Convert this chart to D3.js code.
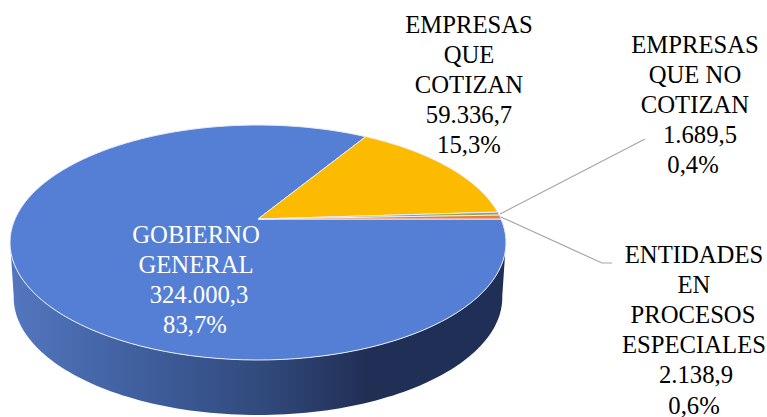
<!DOCTYPE html>
<html><head><meta charset="utf-8">
<script src="https://cdn.jsdelivr.net/npm/d3@7"></script>
<style>html,body{margin:0;background:#fff}svg{display:block}text{font-family:"Liberation Serif",serif;font-size:24.7px}</style>
</head><body><svg width="767" height="417"></svg>
<script>
const categories=["GOBIERNO GENERAL","EMPRESAS QUE COTIZAN","EMPRESAS QUE NO COTIZAN","ENTIDADES EN PROCESOS ESPECIALES"];
const values=[324000.3,59336.7,1689.5,2138.9];
const valueLabels=["324.000,3","59.336,7","1.689,5","2.138,9"];
const percentLabels=["83,7%","15,3%","0,4%","0,6%"];
const colors=["#547fd5","#fdbb00","#8fa668","#ed7d31"];
const svg=d3.select("svg");
const apexX=258,apexY=219,su=243,sv=112.8,k=0.2,depth=55;
// d3 pie angle (0 = north, clockwise) starting at 3 o'clock, projected with perspective
const project=a=>{const c=Math.sin(a),s=Math.cos(a),w=1+k*s;return [apexX+su*c/w,apexY-sv*s/w];};
const pie=d3.pie().sort(null).startAngle(Math.PI/2).endAngle(Math.PI/2+2*Math.PI)(values);
const line=d3.line();
const sample=(a0,a1)=>d3.range(0,121).map(i=>project(a0+(a1-a0)*i/120));
const defs=svg.append("defs");
const grad=defs.append("linearGradient").attr("id","side");
[[0,"#5377bf"],[0.25,"#40609f"],[0.5,"#324b7e"],[0.72,"#212f55"],[1,"#202f55"]].forEach(d=>grad.append("stop").attr("offset",d[0]).attr("stop-color",d[1]));
const lower=sample(Math.PI/2+0.19,Math.PI*1.5-0.19);
const shrink=p=>[apexX+(p[0]-apexX)*0.985,p[1]+depth];
svg.append("path").attr("fill","url(#side)").attr("d",line(lower.concat(lower.slice().reverse().map(shrink)))+"Z");
svg.selectAll(".slice").data(pie).join("path").attr("class","slice")
 .attr("fill",(d,i)=>colors[i]).attr("stroke","#e9edf5").attr("stroke-width",1).attr("stroke-linejoin","round")
 .attr("d",d=>line([[apexX,apexY]].concat(sample(d.startAngle,d.endAngle)))+"Z");
const leaders=[[[500,214],[645,139]],[[501,217],[602,263],[612,263]]];
svg.selectAll(".l").data(leaders).join("path").attr("class","l").attr("fill","none").attr("stroke","#a6a6a6").attr("stroke-width",1.2).attr("d",d=>line(d));
const labelLines=[
 ["GOBIERNO","GENERAL",valueLabels[0],percentLabels[0]],
 ["EMPRESAS","QUE","COTIZAN",valueLabels[1],percentLabels[1]],
 ["EMPRESAS","QUE NO","COTIZAN",valueLabels[2],percentLabels[2]],
 ["ENTIDADES","EN","PROCESOS","ESPECIALES",valueLabels[3],percentLabels[3]]];
const labelX=[[196,196,199,195],[469,469,469,469,469],[695,695,695,700,693],[694,694,693,694,696,694]];
const labelY=[243,33,53,263];
labelLines.forEach((t,j)=>t.forEach((s,i)=>svg.append("text").attr("x",labelX[j][i]).attr("y",labelY[j]+i*30.1).attr("text-anchor","middle").attr("fill",j==0?"#fff":"#000").text(s)));
</script></body></html>
